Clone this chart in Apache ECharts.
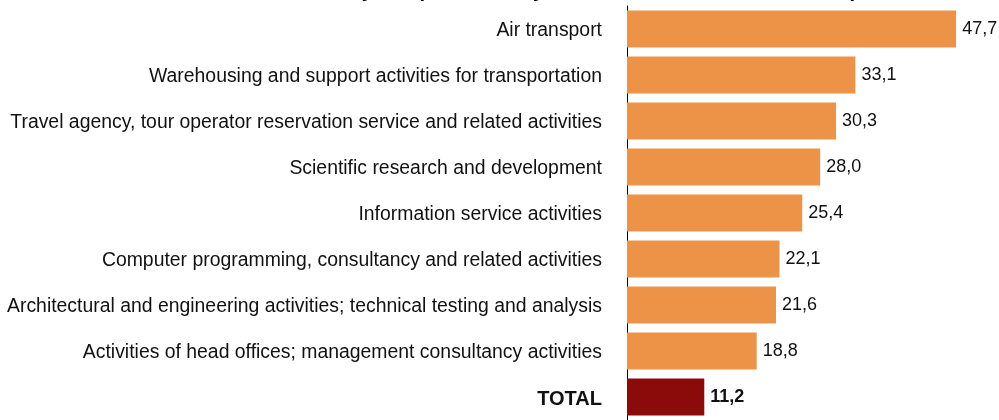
<!DOCTYPE html>
<html>
<head>
<meta charset="utf-8">
<script src="https://cdn.jsdelivr.net/npm/echarts@6/dist/echarts.min.js"></script>
<style>
  html, body { margin: 0; padding: 0; background: #fff; }
  #chart { width: 999px; height: 420px; }
</style>
</head>
<body>
<div id="chart"></div>
<script>
// title is cut off at the top of the picture, only descenders show
const titleText = 'Remote work share in the activity and personnel by sector of the total workforce: top'

const categories = [
  'Air transport',
  'Warehousing and support activities for transportation',
  'Travel agency, tour operator reservation service and related activities',
  'Scientific research and development',
  'Information service activities',
  'Computer programming, consultancy and related activities',
  'Architectural and engineering activities; technical testing and analysis',
  'Activities of head offices; management consultancy activities',
  'TOTAL'
]
const values = [47.7, 33.1, 30.3, 28.0, 25.4, 22.1, 21.6, 18.8, 11.2]

const ORANGE = '#ED9347'
const DARK_RED = '#8B0A0A'
const FONT = 'Liberation Sans, Arial, sans-serif'

const chart = echarts.init(document.getElementById('chart'))

const isTotal = (name) => name === 'TOTAL'

const option = {
  animation: false,
  title: {
    text: titleText,
    left: 50,
    top: -24,
    textStyle: { fontFamily: FONT, fontSize: 20, fontWeight: 'bold', color: '#000' }
  },
  grid: { left: 627, right: 27, top: 6, bottom: -6 },
  xAxis: {
    type: 'value',
    min: 0,
    max: 50,
    show: false
  },
  yAxis: {
    type: 'category',
    inverse: true,
    data: categories,
    axisLine: { show: true, lineStyle: { color: '#000', width: 1 } },
    axisTick: { show: false },
    axisLabel: {
      margin: 25,
      fontFamily: FONT,
      fontSize: 19.4,
      color: '#111',
      padding: [4, 0, 0, 0],
      formatter: (v) => isTotal(v) ? '{b|' + v + '}' : v,
      rich: {
        b: { fontFamily: FONT, fontSize: 20, fontWeight: 'bold', color: '#111' }
      }
    }
  },
  series: [{
    type: 'bar',
    barWidth: 37,
    data: values.map((v, i) => ({
      value: v,
      itemStyle: { color: isTotal(categories[i]) ? DARK_RED : ORANGE },
      label: { fontWeight: isTotal(categories[i]) ? 'bold' : 'normal' }
    })),
    label: {
      show: true,
      position: 'right',
      distance: 6,
      fontFamily: FONT,
      fontSize: 18,
      color: '#111',
      formatter: (p) => p.value.toFixed(1).replace('.', ',')
    }
  }]
}

chart.setOption(option)
</script>
</body>
</html>
